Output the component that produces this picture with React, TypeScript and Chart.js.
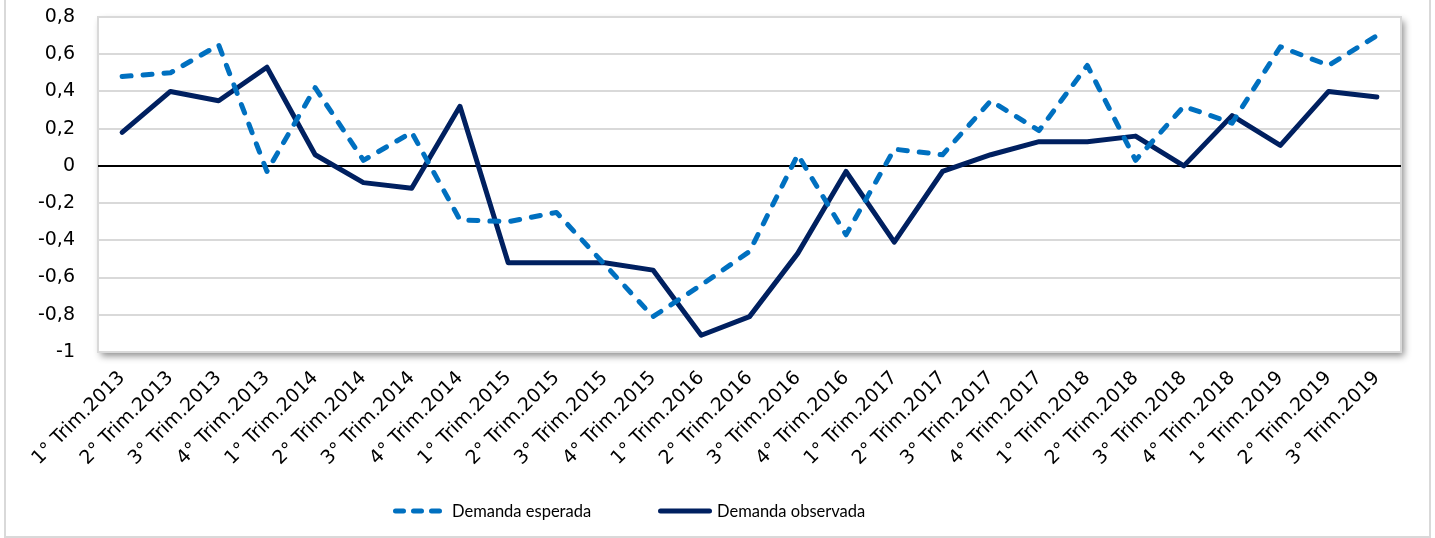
import React, { useEffect, useRef } from 'react';
import { Chart, registerables } from 'chart.js';

Chart.register(...registerables);

const categories = [
  '1° Trim.2013', '2° Trim.2013', '3° Trim.2013', '4° Trim.2013',
  '1° Trim.2014', '2° Trim.2014', '3° Trim.2014', '4° Trim.2014',
  '1° Trim.2015', '2° Trim.2015', '3° Trim.2015', '4° Trim.2015',
  '1° Trim.2016', '2° Trim.2016', '3° Trim.2016', '4° Trim.2016',
  '1° Trim.2017', '2° Trim.2017', '3° Trim.2017', '4° Trim.2017',
  '1° Trim.2018', '2° Trim.2018', '3° Trim.2018', '4° Trim.2018',
  '1° Trim.2019', '2° Trim.2019', '3° Trim.2019',
];

const demandaEsperada = [
  0.48, 0.50, 0.65, -0.03,
  0.42, 0.03, 0.18, -0.29,
  -0.30, -0.25, -0.53, -0.81,
  -0.64, -0.46, 0.06, -0.37,
  0.09, 0.06, 0.35, 0.19,
  0.54, 0.03, 0.32, 0.23,
  0.64, 0.54, 0.70,
];

const demandaObservada = [
  0.18, 0.40, 0.35, 0.53,
  0.06, -0.09, -0.12, 0.32,
  -0.52, -0.52, -0.52, -0.56,
  -0.91, -0.81, -0.47, -0.03,
  -0.41, -0.03, 0.06, 0.13,
  0.13, 0.16, 0.00, 0.27,
  0.11, 0.40, 0.37,
];

const seriesLabels = ['Demanda esperada', 'Demanda observada'];
const yMin = -1;
const yMax = 0.8;
const yStep = 0.2;

const AXIS_FONT = '"DejaVu Sans", sans-serif';
const LEGEND_FONT = 'Lato, "Open Sans", sans-serif';

const framePlugin = {
  id: 'frame',
  beforeDraw(chart: any) {
    const { ctx, chartArea: a } = chart;
    ctx.save();
    ctx.fillStyle = '#ffffff';
    ctx.fillRect(0, 0, chart.width, chart.height);
    ctx.strokeStyle = '#d9d9d9';
    ctx.lineWidth = 2;
    ctx.strokeRect(5, -10, 1425, 547);
    ctx.shadowColor = 'rgba(0,0,0,0.45)';
    ctx.shadowBlur = 7;
    ctx.shadowOffsetX = 3;
    ctx.shadowOffsetY = 4;
    ctx.fillStyle = '#ffffff';
    ctx.fillRect(a.left, a.top, a.right - a.left, a.bottom - a.top);
    ctx.restore();
  },
  beforeDatasetsDraw(chart: any) {
    const { ctx, chartArea: a, scales } = chart;
    ctx.save();
    ctx.strokeStyle = '#d9d9d9';
    ctx.lineWidth = 2;
    ctx.strokeRect(a.left, a.top, a.right - a.left, a.bottom - a.top);
    const y0 = scales.y.getPixelForValue(0);
    ctx.strokeStyle = '#000000';
    ctx.lineWidth = 2;
    ctx.beginPath();
    ctx.moveTo(a.left, y0);
    ctx.lineTo(a.right, y0);
    ctx.stroke();
    ctx.restore();
  },
  afterDraw(chart: any) {
    const { ctx } = chart;
    const items = [
      { x: 393, w: 50, gap: 9 },
      { x: 658, w: 54, gap: 5 },
    ];
    const yc = 511;
    ctx.save();
    chart.data.datasets.forEach((ds: any, i: number) => {
      const it = items[i];
      ctx.strokeStyle = ds.borderColor;
      ctx.lineWidth = ds.borderWidth;
      ctx.lineCap = 'round';
      ctx.setLineDash(i === 0 ? [8, 10] : []);
      ctx.beginPath();
      ctx.moveTo(it.x + 2.5, yc);
      ctx.lineTo(it.x + it.w - 2.5, yc);
      ctx.stroke();
      ctx.setLineDash([]);
      ctx.fillStyle = '#000000';
      ctx.font = `16.5px ${LEGEND_FONT}`;
      ctx.textBaseline = 'middle';
      ctx.textAlign = 'left';
      ctx.fillText(ds.label, it.x + it.w + it.gap, yc + 1);
    });
    ctx.restore();
  },
};

export default function App() {
  const canvasRef = useRef<HTMLCanvasElement | null>(null);

  useEffect(() => {
    document.body.style.margin = '0';
    const canvas = canvasRef.current;
    if (!canvas) return;
    const chart = new Chart(canvas, {
      type: 'line',
      data: {
        labels: categories,
        datasets: [
          {
            label: seriesLabels[0],
            data: demandaEsperada,
            borderColor: '#0070C0',
            backgroundColor: '#0070C0',
            borderWidth: 5,
            borderDash: [9, 12],
            borderCapStyle: 'round',
            borderJoinStyle: 'round',
            pointRadius: 0,
            tension: 0,
            fill: false,
          },
          {
            label: seriesLabels[1],
            data: demandaObservada,
            borderColor: '#002060',
            backgroundColor: '#002060',
            borderWidth: 5,
            borderCapStyle: 'round',
            borderJoinStyle: 'round',
            pointRadius: 0,
            tension: 0,
            fill: false,
          },
        ],
      },
      options: {
        animation: false,
        responsive: true,
        maintainAspectRatio: false,
        layout: { padding: { top: 17, right: 34, left: 0, bottom: 0 } },
        plugins: {
          legend: { display: false },
          tooltip: { enabled: false },
        },
        scales: {
          x: {
            type: 'category',
            offset: true,
            grid: { display: false, drawTicks: false },
            border: { display: false },
            ticks: {
              autoSkip: false,
              maxRotation: 45,
              minRotation: 45,
              padding: 15,
              color: '#000000',
              font: { family: AXIS_FONT, size: 19 },
            },
            afterFit: (s: any) => {
              s.height = 186;
              s.paddingLeft = 0;
              s.paddingRight = 0;
            },
          },
          y: {
            min: yMin,
            max: yMax,
            grid: {
              color: '#d9d9d9',
              lineWidth: 2,
              drawTicks: false,
            },
            border: { display: false },
            ticks: {
              stepSize: yStep,
              padding: 23,
              color: '#000000',
              font: { family: AXIS_FONT, size: 19 },
              callback: (v: any) => {
                const r = Math.round(Number(v) * 10) / 10;
                return r === 0 ? '0' : String(r).replace('.', ',');
              },
            },
            afterFit: (s: any) => {
              s.width = 98;
              s.paddingTop = 0;
              s.paddingBottom = 0;
            },
          },
        },
      },
      plugins: [framePlugin],
    });
    return () => chart.destroy();
  }, []);

  return (
    <div style={{ position: 'relative', width: 1435, height: 538 }}>
      <canvas ref={canvasRef} />
    </div>
  );
}
